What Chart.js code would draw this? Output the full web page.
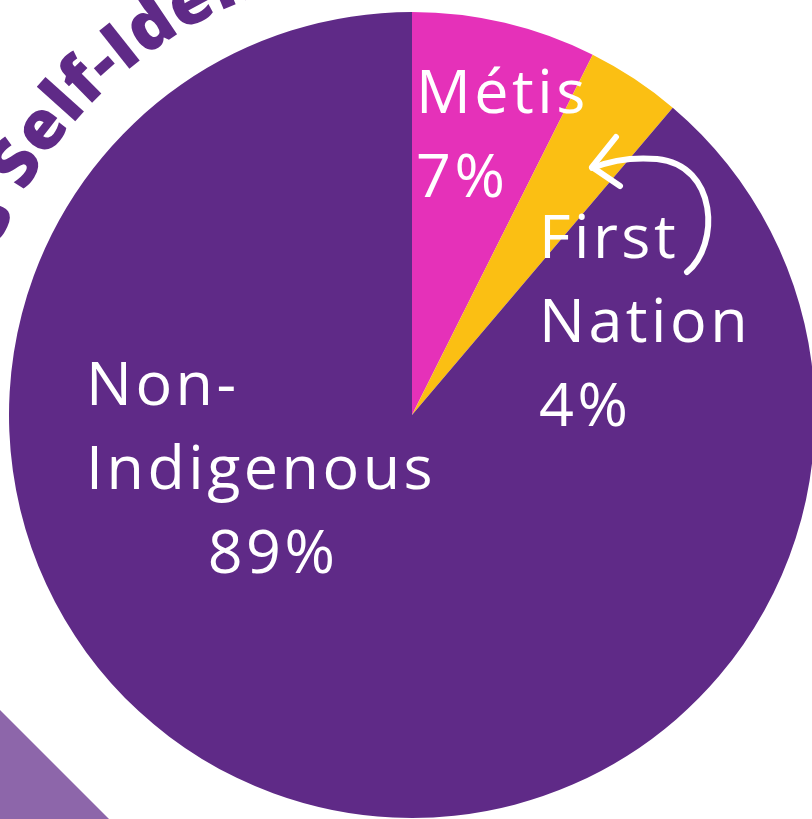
<!DOCTYPE html>
<html>
<head>
<meta charset="utf-8">
<script src="https://cdn.jsdelivr.net/npm/chart.js@4.4.1/dist/chart.umd.min.js"></script>
<style>
  html, body { margin: 0; padding: 0; background: #ffffff; overflow: hidden; }
  #wrap { position: relative; width: 812px; height: 819px; overflow: hidden; }
  #pie { position: absolute; left: 0; top: 0; }
</style>
</head>
<body>
<div id="wrap">
  <canvas id="pie" width="830" height="830"></canvas>
</div>
<script>
// Self-identification shares
const categories = ['Métis', 'First Nation', 'Non-Indigenous'];
const shares = [7.4, 3.8, 88.8];
const sliceColors = ['#E531B9', '#FBBF13', '#5F2A87'];
const titleText = 'Indigenous Self-Identification';

const PURPLE = '#5F2A87';
const LABEL_FONT = '370 61px "Open Sans", "Noto Sans", sans-serif';

// split a category into the lines used on the slice
function labelLines(i) {
    const name = categories[i];
    const pct = Math.round(shares[i]) + '%';
    if (name === 'Non-Indigenous') return ['Non-', 'Indigenous', pct];
    return name.split(' ').concat([pct]);
}

/**
 * Decorations: corner triangle, curved title, slice labels and arrow
 */
const decorPlugin = {
    id: 'decor',
    beforeDraw(chart) {
        const ctx = chart.ctx;
        ctx.save();
        ctx.fillStyle = '#8D66AA';
        ctx.beginPath();
        ctx.moveTo(0, 710);
        ctx.lineTo(130, 840);
        ctx.lineTo(0, 840);
        ctx.closePath();
        ctx.fill();
        ctx.restore();
    },
    afterDatasetsDraw(chart) {
        const ctx = chart.ctx;
        const arc = chart.getDatasetMeta(0).data[0];
        const cx = arc.x, cy = arc.y, r = arc.outerRadius;

        // curved title outside the pie (only the top-left part is in frame)
        ctx.save();
        ctx.beginPath();
        ctx.rect(0, 0, cx - 150, 250);
        ctx.clip();
        ctx.fillStyle = PURPLE;
        ctx.font = '800 68px "Open Sans", "DejaVu Sans", sans-serif';
        ctx.textAlign = 'center';
        ctx.textBaseline = 'alphabetic';
        const baseR = r + 44;
        const spacing = 1;
        const prefix = titleText.slice(0, titleText.indexOf('Self'));
        let prefW = 0;
        for (const ch of prefix) prefW += ctx.measureText(ch).width + spacing;
        let ang = -150.2 * Math.PI / 180 - prefW / baseR;
        for (const ch of titleText) {
            const w = ctx.measureText(ch).width + spacing;
            ang += (w / 2) / baseR;
            ctx.save();
            ctx.translate(cx, cy);
            ctx.rotate(ang + Math.PI / 2);
            ctx.fillText(ch, 0, -baseR);
            ctx.restore();
            ang += (w / 2) / baseR;
        }
        ctx.restore();

        // slice labels
        ctx.save();
        ctx.fillStyle = '#ffffff';
        ctx.font = LABEL_FONT;
        ctx.textBaseline = 'alphabetic';
        try { ctx.letterSpacing = '3.5px'; } catch (e) {}
        const lh = 84;
        // Métis
        labelLines(0).forEach((t, k) => {
            ctx.textAlign = 'left';
            ctx.fillText(t, cx + 4, cy - 302 + k * lh);
        });
        // First Nation
        labelLines(1).forEach((t, k) => {
            ctx.textAlign = 'left';
            ctx.fillText(t, cx + 127, cy - 157 + k * lh);
        });
        // Non-Indigenous
        const ni = labelLines(2);
        ctx.textAlign = 'left';
        ctx.fillText(ni[0], cx - 326, cy - 10);
        ctx.fillText(ni[1], cx - 326, cy - 10 + lh);
        ctx.textAlign = 'center';
        ctx.fillText(ni[2], cx - 139, cy - 10 + 2 * lh);
        ctx.restore();

        // hand-drawn arrow pointing at the First Nation slice
        ctx.save();
        ctx.strokeStyle = '#ffffff';
        ctx.lineWidth = 6;
        ctx.lineCap = 'round';
        ctx.lineJoin = 'round';
        ctx.beginPath();
        ctx.moveTo(cx + 275, cy - 143);
        ctx.bezierCurveTo(cx + 308, cy - 170, cx + 306, cy - 250, cx + 245, cy - 256);
        ctx.quadraticCurveTo(cx + 210, cy - 259, cx + 180, cy - 247);
        ctx.stroke();
        ctx.beginPath();
        ctx.moveTo(cx + 204, cy - 278);
        ctx.lineTo(cx + 180, cy - 248);
        ctx.lineTo(cx + 208, cy - 229);
        ctx.stroke();
        ctx.restore();
    }
};

new Chart(document.getElementById('pie'), {
    type: 'pie',
    data: {
        labels: categories,
        datasets: [{
            data: shares,
            backgroundColor: sliceColors,
            borderWidth: 0,
            hoverOffset: 0
        }]
    },
    options: {
        responsive: false,
        animation: false,
        events: [],
        layout: {
            padding: { left: 9, right: 15, top: 12, bottom: 12 }
        },
        plugins: {
            legend: { display: false },
            tooltip: { enabled: false }
        }
    },
    plugins: [decorPlugin]
});
</script>
</body>
</html>
